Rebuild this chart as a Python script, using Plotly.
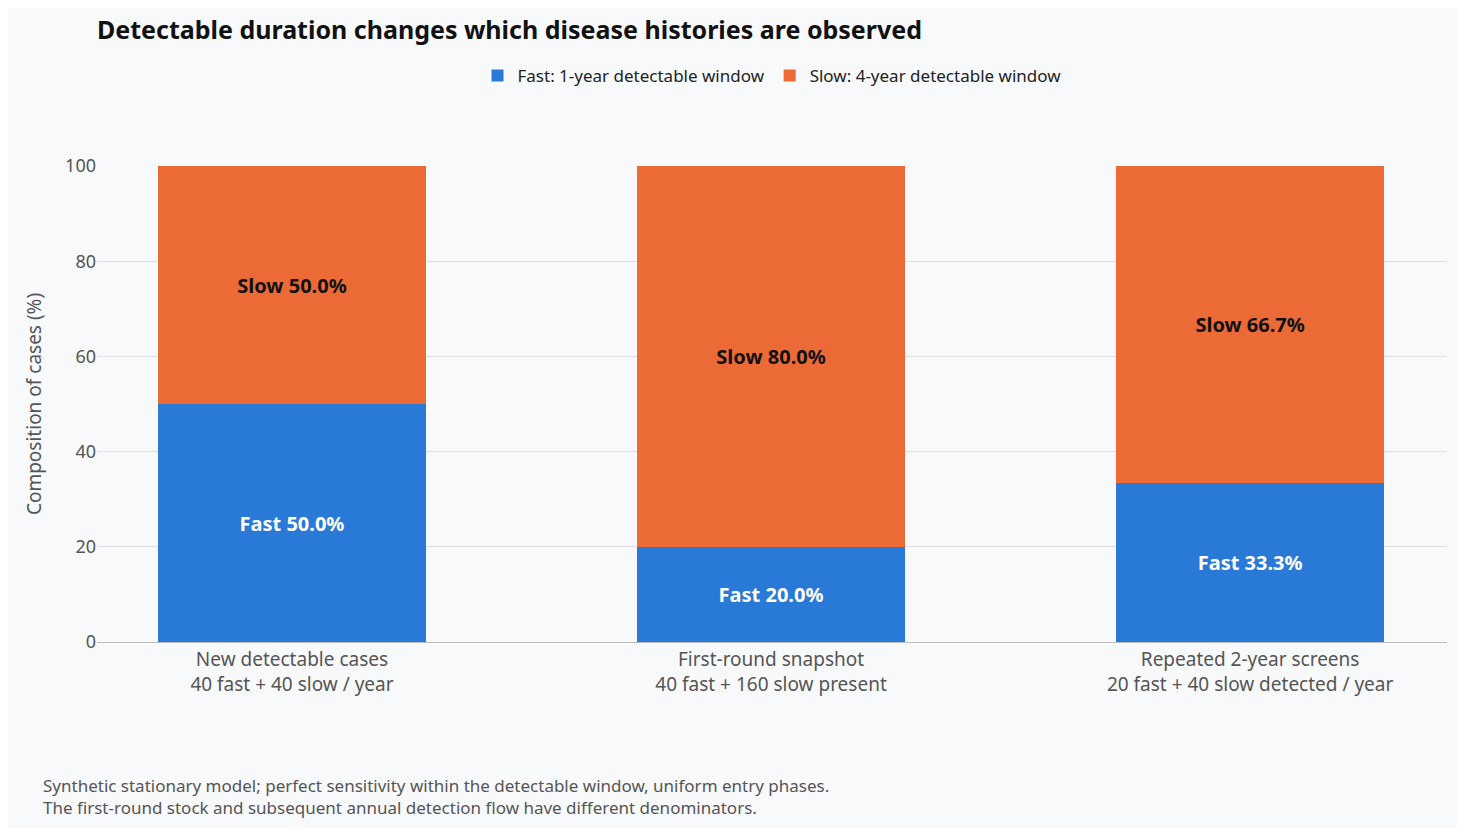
import plotly.graph_objects as go

categories = ["New detectable cases<br>40 fast + 40 slow / year",
              "First-round snapshot<br>40 fast + 160 slow present",
              "Repeated 2-year screens<br>20 fast + 40 slow detected / year"]
fast = [50.0, 20.0, 33.3]
slow = [50.0, 80.0, 66.7]

fig = go.Figure()
fig.add_bar(x=categories, y=fast, name="Fast: 1-year detectable window", marker_color="#2979d6",
            text=[f"Fast {v:.1f}%" for v in fast], textposition="inside", insidetextanchor="middle",
            textfont=dict(color="white", size=20, family="Noto Sans", weight="bold"))
fig.add_bar(x=categories, y=slow, name="Slow: 4-year detectable window", marker_color="#eb6a36",
            text=[f"Slow {v:.1f}%" for v in slow], textposition="inside", insidetextanchor="middle",
            textfont=dict(color="#111111", size=20, family="Noto Sans", weight="bold"))
fig.update_traces(width=0.56, marker_line_width=0, cliponaxis=False)
W, H = 1449, 820
fig.update_layout(
    barmode="stack", width=W, height=H,
    paper_bgcolor="#f8f9fb", plot_bgcolor="#f8f9fb",
    font=dict(family="Noto Sans", color="#555555", size=17),
    margin=dict(l=89, r=10, t=158, b=186),
    title=dict(text="<b>Detectable duration changes which disease histories are observed</b>",
               x=89/W, xanchor="left", y=1-22/H, yanchor="middle",
               font=dict(size=25, color="#111111")),
    legend=dict(orientation="h", x=0.5, xanchor="center", y=1.189, yanchor="middle", traceorder="normal",
                font=dict(size=17, color="#222222"), bgcolor="rgba(0,0,0,0)"),
    xaxis=dict(range=[-0.407, 2.411], showline=True, linecolor="#bbbbbb", tickfont=dict(size=19, color="#555555")),
    yaxis=dict(range=[0, 100], dtick=20, gridcolor="#dddddd", zeroline=False,
               title=dict(text="Composition of cases (%)", font=dict(size=19), standoff=18),
               tickfont=dict(size=18)),
)
fig.add_annotation(xref="paper", yref="paper", x=-56/1350, y=-(772-642)/476, xanchor="left", yanchor="top",
                   align="left", showarrow=False, font=dict(size=17, color="#555555"),
                   text="Synthetic stationary model; perfect sensitivity within the detectable window, uniform entry phases.<br>"
                        "The first-round stock and subsequent annual detection flow have different denominators.")
fig.write_html("out.html")
